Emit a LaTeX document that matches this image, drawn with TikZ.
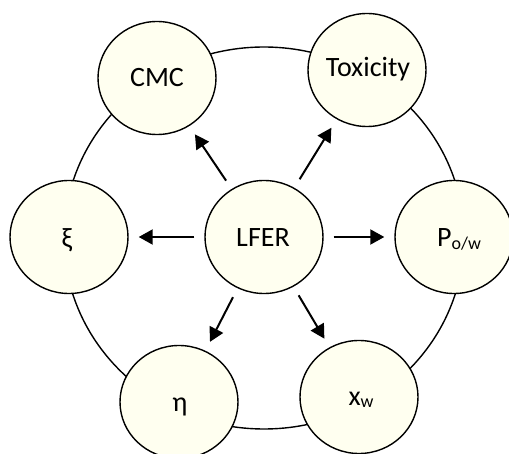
\documentclass[tikz,border=0pt]{standalone}
\usepackage{fontspec}
\setmainfont{Carlito}
\usetikzlibrary{shapes.geometric,arrows.meta}
\definecolor{cream}{HTML}{FFFFF0}
\begin{document}
\begin{tikzpicture}[x=1pt,y=-1pt,
 bubble/.style={ellipse,draw,line width=1.4pt,fill=cream,minimum width=118pt,minimum height=113pt,inner sep=0pt},
 lbl/.style={font=\fontsize{28}{32}\selectfont,inner sep=0pt,anchor=base},
 arr/.style={line width=2pt,-{Triangle[length=14pt,width=15pt]},shorten <=10pt,shorten >=10pt}]
\useasboundingbox (0,0) rectangle (509,454);
\draw[line width=1.4pt] (264,238) ellipse [x radius=200pt, y radius=191pt];
\node[bubble] (lfer) at (264,237) {};
\node[bubble] (cmc) at (157,78) {};
\node[bubble] (tox) at (367,70) {};
\node[bubble] (xi) at (69,237) {};
\node[bubble] (pow) at (454,237) {};
\node[bubble] (eta) at (179,402) {};
\node[bubble] (xw) at (359,397) {};
\node[lbl] (lfer-t) at (263,247) {LFER};
\node[lbl] (cmc-t) at (157,87) {CMC};
\node[lbl] (tox-t) at (368,77) {Toxicity};
\node[lbl] (xi-t) at (67,248) {ξ};
\node[lbl] (pow-t) at (459,247) {P\raisebox{-3pt}{\fontsize{18}{20}\selectfont o/w}};
\node[lbl] (eta-t) at (180,412) {η};
\node[lbl] (xw-t) at (361,406) {x\raisebox{-2pt}{\fontsize{18}{20}\selectfont w}};
\draw[arr] (lfer) -- (cmc);
\draw[arr] (lfer) -- (tox);
\draw[arr] (lfer) -- (xi);
\draw[arr] (lfer) -- (pow);
\draw[arr] (lfer) -- (eta);
\draw[arr] (lfer) -- (xw);
\end{tikzpicture}
\end{document}
